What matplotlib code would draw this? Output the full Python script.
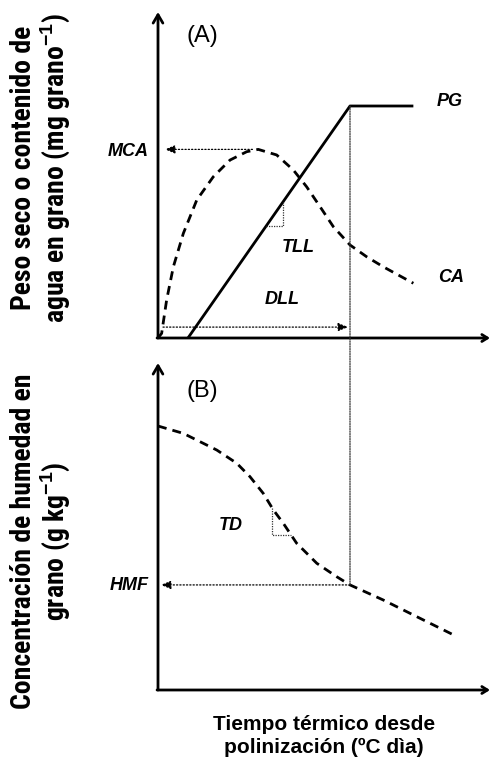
import numpy as np
import matplotlib
matplotlib.use("Agg")
import matplotlib.pyplot as plt
from matplotlib import font_manager
from matplotlib.patches import ConnectionPatch

# ---- data (arbitrary units: x = thermal time, maturity = 100) ----
pg_x = [15.6, 100, 133]
pg_y = [0, 100, 100]

ca_x = [0, 1.9, 4.5, 8.0, 13.2, 20.2, 28.8, 37.5, 46.2, 52.2, 61.8, 70.5,
        77.4, 84.4, 91.3, 100, 108.7, 117.3, 133]
ca_y = [0, 2.0, 16.4, 30.7, 45.1, 59.5, 69.5, 76.7, 80.3, 81.3, 78.9, 72.4,
        65.2, 56.6, 48.0, 40.1, 35.0, 30.7, 23.6]

td_x = [0, 13.2, 30.6, 41.0, 47.9, 54.8, 60.1, 65.3, 72.2, 82.7, 93.1, 100,
        117.3, 134.7, 153.0]
td_y = [100, 97.2, 90.9, 85.9, 80.8, 74.5, 68.2, 63.1, 55.6, 48.0, 42.9,
        39.8, 34.1, 27.8, 21.2]

x_mat = 100          # madurez fisiologica
dll_y = 4.7

plt.rcParams["mathtext.fontset"] = "custom"
plt.rcParams["mathtext.rm"] = "Liberation Sans"
plt.rcParams["mathtext.bf"] = "Liberation Sans:bold"

# fuente condensada para los titulos de eje y, si existe
names = {f.name for f in font_manager.fontManager.ttflist}
if "Roboto Condensed" in names:
    yfam, ysize = "Roboto Condensed", 20
else:
    yfam, ysize = "Liberation Sans", 15

W, H = 492, 766
fig = plt.figure(figsize=(W / 100, H / 100), dpi=100)

def fx(px):
    return px / W

def fy(py):
    return 1 - py / H

axA = fig.add_axes([fx(158), fy(338), (490 - 158) / W, (338 - 12) / H])
axB = fig.add_axes([fx(158), fy(690), (490 - 158) / W, (690 - 363) / H])
axA.set_xlim(0, (490 - 158) / 1.92)
axA.set_ylim(0, (338 - 12) / 2.32)
axB.set_xlim(0, (490 - 158) / 1.92)
axB.set_ylim(0, (690 - 363) / 2.64)

for ax in (axA, axB):
    ax.axis("off")
    x1 = ax.get_xlim()[1]
    y1 = ax.get_ylim()[1]
    ax.annotate("", xy=(0, y1), xytext=(0, 0),
                arrowprops=dict(arrowstyle="->,head_length=0.6,head_width=0.35",
                                lw=2, color="black", shrinkA=0, shrinkB=0),
                annotation_clip=False)
    ax.annotate("", xy=(x1, 0), xytext=(-0.5, 0),
                arrowprops=dict(arrowstyle="->,head_length=0.4,head_width=0.25",
                                lw=2, color="black", shrinkA=0, shrinkB=0),
                annotation_clip=False)

dot = dict(color="#333333", lw=0.9, linestyle=(0, (1, 1)))
dash = (0, (3.2, 2.2))
head = dict(arrowstyle="-|>,head_length=0.6,head_width=0.25", color="black",
            lw=0.9, linestyle=":", shrinkA=0, shrinkB=0)

# ---- panel A ----
axA.plot(pg_x, pg_y, color="black", lw=2, solid_capstyle="butt")
axA.plot(ca_x, ca_y, color="black", lw=2, linestyle=dash)

mca_y = max(ca_y)
x_peak = ca_x[int(np.argmax(ca_y))]
axA.annotate("", xy=(3.6, mca_y), xytext=(x_peak - 3, mca_y), arrowprops=head)
axA.annotate("", xy=(x_mat - 1, dll_y), xytext=(2.6, dll_y), arrowprops=head)

# triangulo de pendiente (TLL) sobre PG
t0, t1 = 56.5, 65.1
yb = np.interp(t0, pg_x, pg_y)
yt = np.interp(t1, pg_x, pg_y)
axA.plot([t0, t1, t1], [yb, yb, yt], **dot)

# ---- panel B ----
axB.plot(td_x, td_y, color="black", lw=2, linestyle=dash)
hmf_y = np.interp(x_mat, td_x, td_y)
axB.annotate("", xy=(1.5, hmf_y), xytext=(x_mat, hmf_y), arrowprops=head)
d0, d1 = 59.4, 69.5
ytop = np.interp(d0, td_x, td_y)
ybot = np.interp(d1, td_x, td_y)
axB.plot([d0, d0, d1], [ytop, ybot, ybot], **dot)

# linea vertical en madurez, atraviesa ambos paneles
con = ConnectionPatch(xyA=(x_mat, max(pg_y)), coordsA=axA.transData,
                      xyB=(x_mat, hmf_y), coordsB=axB.transData, **dot)
fig.add_artist(con)

# ---- textos ----
bi = dict(fontsize=13, fontweight="bold", fontstyle="italic",
          family="Liberation Sans", color="black", va="center")
fig.text(fx(437), fy(101), "PG", ha="left", **bi)
fig.text(fx(438), fy(278), "CA", ha="left", **bi)
fig.text(fx(149), fy(152), "MCA", ha="right", **bi)
fig.text(fx(298), fy(247), "TLL", ha="center", **bi)
fig.text(fx(282), fy(300), "DLL", ha="center", **bi)
fig.text(fx(231), fy(525), "TD", ha="center", **bi)
fig.text(fx(149), fy(586), "HMF", ha="right", **bi)

fig.text(fx(202), fy(36), "(A)", fontsize=17, family="Liberation Sans",
         ha="center", va="center")
fig.text(fx(202), fy(391), "(B)", fontsize=17, family="Liberation Sans",
         ha="center", va="center")

yl = dict(fontsize=ysize, fontweight="bold", family=[yfam, "DejaVu Sans"],
          rotation=90, ha="center", va="center", linespacing=1.08)
fig.text(fx(41), fy(168),
         "Peso seco o contenido de\nagua en grano (mg grano$^{\\mathbf{-1}}$)", **yl)
fig.text(fx(41), fy(541),
         "Concentración de humedad en\ngrano (g kg$^{\\mathbf{-1}}$)", **yl)

fig.text(fx(324), fy(736), "Tiempo térmico desde\npolinización (ºC dìa)",
         fontsize=15, fontweight="bold", family="Liberation Sans",
         ha="center", va="center", linespacing=1.2)

fig.savefig("out.png", dpi=100)
